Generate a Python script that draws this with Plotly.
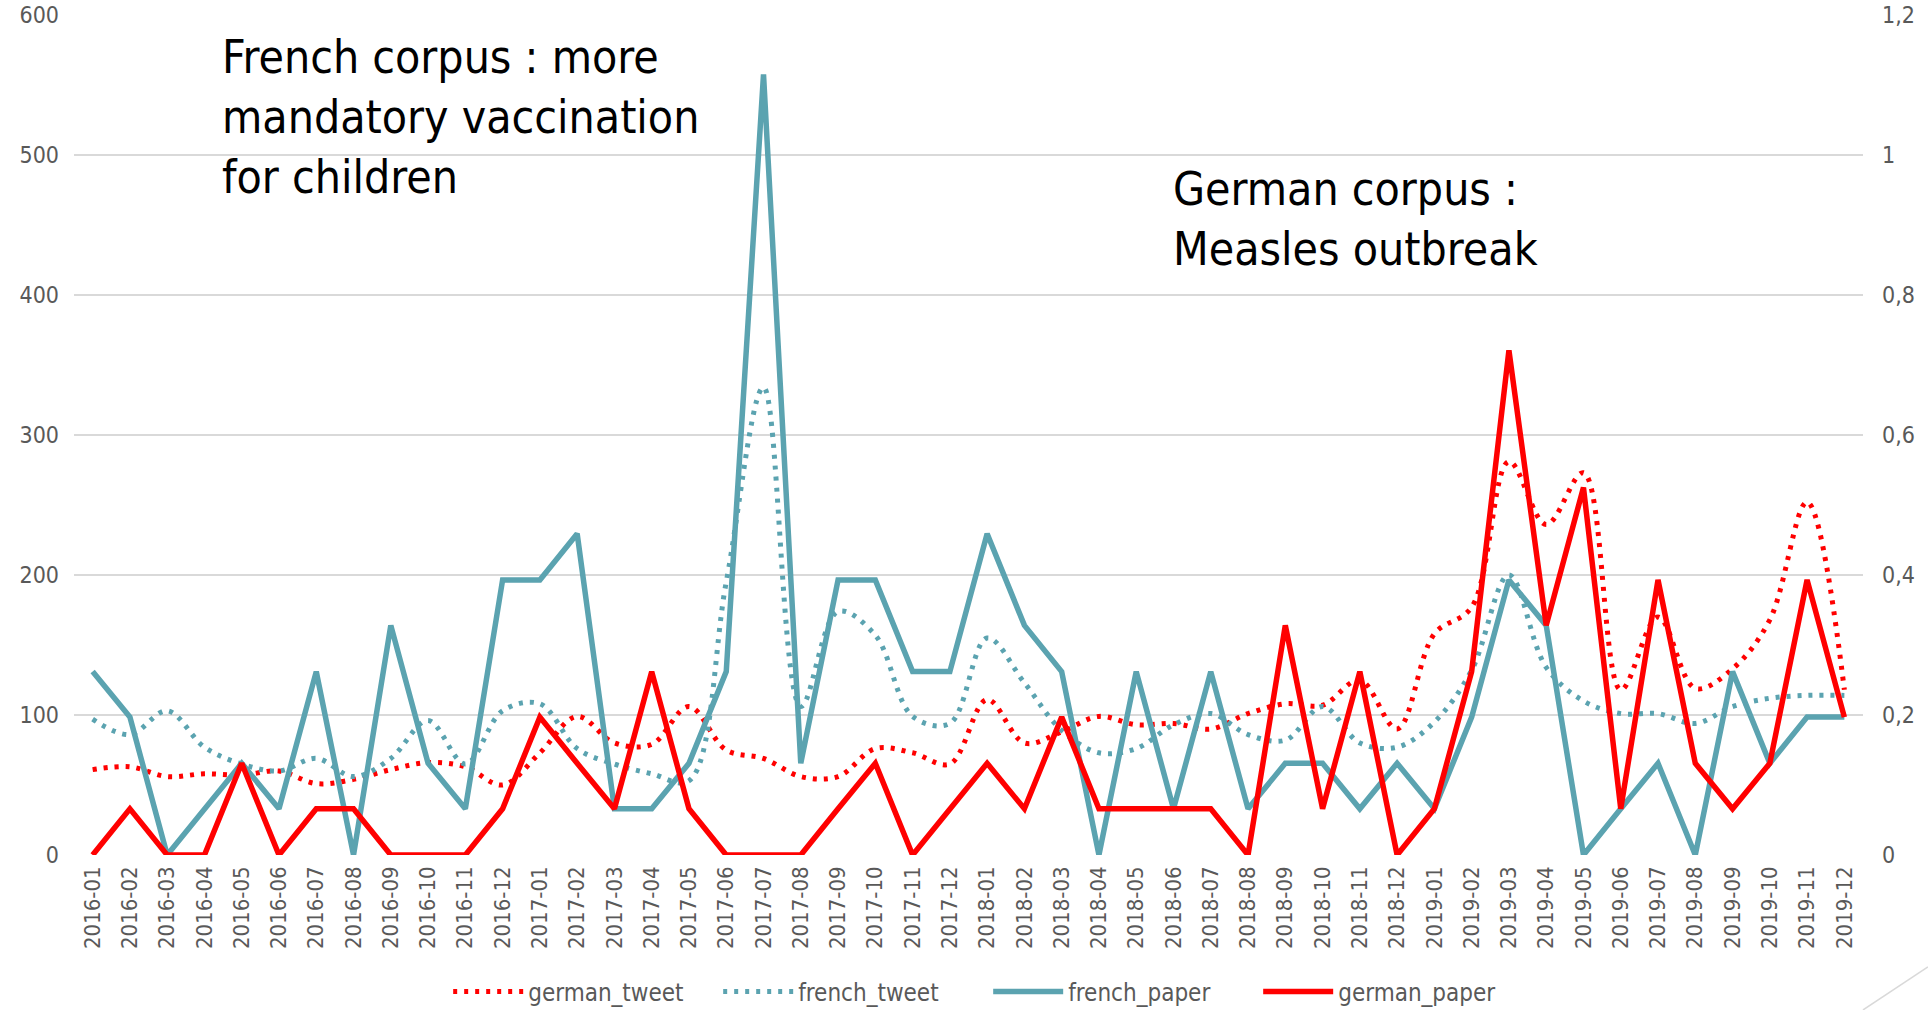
import plotly.graph_objects as go

months = [f"{y}-{m:02d}" for y in (2016, 2017, 2018, 2019) for m in range(1, 13)]

german_tweet = [61, 63, 56, 58, 57, 60, 51, 54, 61, 66, 63, 50,
                73, 99, 80, 79, 106, 75, 69, 56, 56, 76, 73, 65,
                111, 80, 88, 99, 93, 94, 90, 101, 108, 107, 125, 90,
                158, 177, 281, 236, 273, 118, 170, 119, 133, 168, 252, 118]

french_tweet = [97, 86, 103, 77, 65, 60, 69, 56, 69, 96, 65, 103,
                108, 76, 65, 58, 53, 195, 334, 106, 174, 157, 99, 94,
                155, 123, 89, 73, 76, 93, 101, 86, 82, 106, 80, 77,
                95, 132, 200, 134, 110, 101, 101, 94, 106, 112, 114, 114]

french_paper = [0.262, 0.197, 0, 0.066, 0.131, 0.066, 0.262, 0, 0.328, 0.131, 0.066, 0.393,
                0.393, 0.459, 0.066, 0.066, 0.131, 0.262, 1.115, 0.131, 0.393, 0.393, 0.262, 0.262,
                0.459, 0.328, 0.262, 0, 0.262, 0.066, 0.262, 0.066, 0.131, 0.131, 0.066, 0.131,
                0.066, 0.197, 0.393, 0.328, 0, 0.066, 0.131, 0, 0.262, 0.131, 0.197, 0.197]

german_paper = [0, 0.066, 0, 0, 0.131, 0, 0.066, 0.066, 0, 0, 0, 0.066,
                0.197, 0.131, 0.066, 0.262, 0.066, 0, 0, 0, 0.066, 0.131, 0, 0.066,
                0.131, 0.066, 0.197, 0.066, 0.066, 0.066, 0.066, 0, 0.328, 0.066, 0.262, 0,
                0.066, 0.262, 0.721, 0.328, 0.525, 0.066, 0.393, 0.131, 0.066, 0.131, 0.393, 0.197]

left_ticks = [0, 100, 200, 300, 400, 500, 600]
right_ticks = [0, 0.2, 0.4, 0.6, 0.8, 1.0, 1.2]

TEAL = "#5BA3B0"
RED = "#FF0000"
GRAY = "#595959"
FONT = "DejaVu Sans Condensed, DejaVu Sans, sans-serif"

fig = go.Figure()
fig.add_trace(go.Scatter(x=months, y=german_tweet, name="german_tweet", mode="lines",
                         line=dict(color=RED, width=5, dash="4px,7px", shape="spline", smoothing=1)))
fig.add_trace(go.Scatter(x=months, y=french_tweet, name="french_tweet", mode="lines",
                         line=dict(color=TEAL, width=5, dash="4px,7px", shape="spline", smoothing=1)))
fig.add_trace(go.Scatter(x=months, y=french_paper, name="french_paper", mode="lines", yaxis="y2",
                         line=dict(color=TEAL, width=5.5)))
fig.add_trace(go.Scatter(x=months, y=german_paper, name="german_paper", mode="lines", yaxis="y2",
                         line=dict(color=RED, width=5.5)))

fig.update_layout(
    width=1928, height=1010,
    paper_bgcolor="white", plot_bgcolor="white",
    separators=",.",
    margin=dict(l=74, r=65, t=15, b=155, autoexpand=False),
    font=dict(family=FONT, color=GRAY, size=22),
    xaxis=dict(type="category", range=[-0.5, 47.5], showgrid=False, showline=False,
               tickangle=-90, tickfont=dict(size=22, color=GRAY), ticks="", ticklabelstandoff=6),
    yaxis=dict(range=[0, 600], tickvals=left_ticks, showgrid=True, gridcolor="#D9D9D9", gridwidth=1.5,
               zeroline=False, showline=False, tickfont=dict(size=23, color=GRAY), ticklabelstandoff=14,
               ticklabeloverflow="allow"),
    yaxis2=dict(range=[0, 1.2], tickvals=right_ticks, overlaying="y", side="right", showgrid=False,
                zeroline=False, showline=False, tickfont=dict(size=23, color=GRAY), ticklabelstandoff=18,
                ticklabeloverflow="allow"),
    legend=dict(orientation="h", x=0.511, xanchor="center", y=-0.163, yanchor="middle",
                font=dict(size=24, color=GRAY), itemwidth=70, entrywidth=185, traceorder="normal"),
    annotations=[
        dict(text="French corpus : more<br>mandatory vaccination<br>for children", xref="paper", yref="paper",
             x=0.0816, y=0.879, xanchor="left", yanchor="middle", align="left", showarrow=False,
             font=dict(family=FONT, size=46, color="black")),
        dict(text="German corpus :<br>Measles outbreak", xref="paper", yref="paper",
             x=0.613, y=0.757, xanchor="left", yanchor="middle", align="left", showarrow=False,
             font=dict(family=FONT, size=46, color="black")),
    ],
    shapes=[dict(type="line", xref="paper", yref="paper", x0=1.0, y0=-0.1845, x1=1.0363, y1=-0.1333,
                 line=dict(color="#D9D9D9", width=1.5))],
)

fig.write_html("out.html", config={"displayModeBar": False},
               post_script="document.body.style.margin='0px';document.body.style.overflow='hidden';")
